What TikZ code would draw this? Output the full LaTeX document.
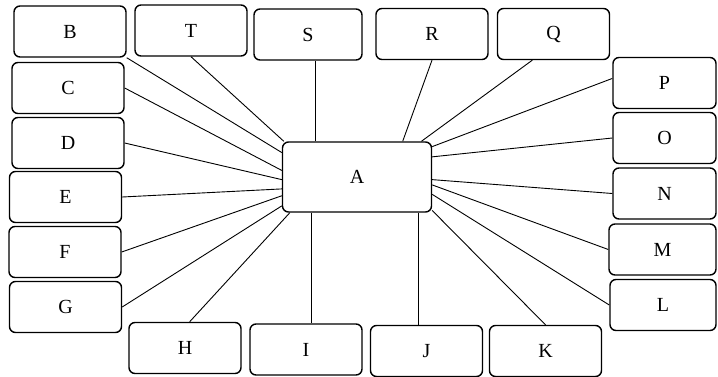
\documentclass[tikz,border=0pt]{standalone}
\usepackage{fontspec}
\setmainfont{Liberation Serif}
\tikzset{
	box/.style={draw, line width=0.7pt, rounded corners=3pt, minimum width=56pt, minimum height=25.5pt, inner sep=0pt, font=\fontsize{10}{12}\selectfont},
	hub/.style={box, minimum width=74.5pt, minimum height=35pt},
	spoke/.style={line width=0.45pt}
}
\begin{document}
\begin{tikzpicture}[x=0.5pt, y=-0.5pt]
	% canvas 718 x 376, y grows downwards
	\useasboundingbox (0,0) rectangle (718,376);
	\node[hub] (A) at (357,177) {A};
	
	% left column
	\node[box] (B) at (70,31.5) {B};
	\node[box] (C) at (68,88) {C};
	\node[box] (D) at (68,143) {D};
	\node[box] (E) at (65.5,197) {E};
	\node[box] (F) at (65,252) {F};
	\node[box] (G) at (65.5,307) {G};
	
	% top row
	\node[box] (T) at (191,30.5) {T};
	\node[box, minimum width=54pt] (S) at (308,34.5) {S};
	\node[box] (R) at (432,34) {R};
	\node[box] (Q) at (553.5,34) {Q};
	
	% right column
	\node[box, minimum width=51.5pt] (P) at (664.5,83) {P};
	\node[box, minimum width=51.5pt] (O) at (664.5,138) {O};
	\node[box, minimum width=51.5pt] (N) at (664.5,193.5) {N};
	\node[box, minimum width=53.5pt] (M) at (662.5,249.5) {M};
	\node[box, minimum width=53pt] (L) at (663,305) {L};
	
	% bottom row
	\node[box] (H) at (185,348) {H};
	\node[box] (I) at (306,349.5) {I};
	\node[box] (J) at (426.5,351) {J};
	\node[box] (K) at (545.5,351) {K};
	
	% spokes
	\draw[spoke] (B.south east) -- (A.162);
	\draw[spoke] (C.east) -- (A.175);
	\draw[spoke] (D.east) -- (A.182);
	\draw[spoke] (E.east) -- (A.189);
	\draw[spoke] (F.east) -- (A.194);
	\draw[spoke] (G.east) -- (A.201);
	\draw[spoke] (H.80) -- (A.208);
	\draw[spoke] (A.218) -- (A.218 |- I.north);
	\draw[spoke] (A.-30) -- (A.-30 |- J.north);
	\draw[spoke] (K.north) -- (A.-24);
	\draw[spoke] (L.west) -- (A.-13);
	\draw[spoke] (M.west) -- (A.-6);
	\draw[spoke] (N.west) -- (A.-2);
	\draw[spoke] (O.west) -- (A.15);
	\draw[spoke] (P.175) -- (A.22);
	\draw[spoke] (Q.231) -- (A.29);
	\draw[spoke] (R.south) -- (A.38);
	\draw[spoke] (A.139) -- (A.139 |- S.south);
	\draw[spoke] (T.south) -- (A.154);
\end{tikzpicture}
\end{document}
